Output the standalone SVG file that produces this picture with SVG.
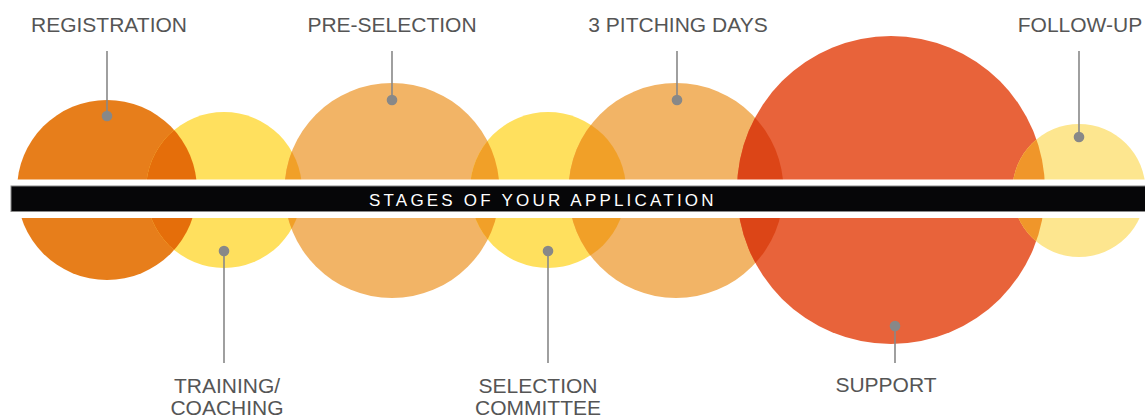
<svg xmlns="http://www.w3.org/2000/svg" width="1145" height="416" viewBox="0 0 1145 416">
  <style>
    .lbl { font-family: "Liberation Sans", Arial, sans-serif; font-size: 21px; fill: #555555; text-anchor: middle; }
    .band { font-family: "Liberation Sans", Arial, sans-serif; font-size: 17px; fill: #ffffff; letter-spacing: 3.2px; }
    .lead { stroke: #888888; stroke-width: 1.6; fill: none; }
    .dot { fill: #888888; }
  </style>
  <defs>
    <clipPath id="k1"><circle cx="107" cy="190" r="90"/></clipPath>
    <clipPath id="k2"><circle cx="224" cy="190" r="78"/></clipPath>
    <clipPath id="k3"><circle cx="392" cy="190.5" r="107.5"/></clipPath>
    <clipPath id="k4"><circle cx="548" cy="190" r="78"/></clipPath>
    <clipPath id="k5"><circle cx="676" cy="190.5" r="107.5"/></clipPath>
    <clipPath id="k6"><circle cx="891" cy="190" r="154"/></clipPath>
  </defs>

  <g id="circles">
    <circle cx="107" cy="190" r="90" fill="#E77E1B"/>
    <circle cx="224" cy="190" r="78" fill="#FFE05E"/>
    <circle cx="392" cy="190.5" r="107.5" fill="#F2B466"/>
    <circle cx="548" cy="190" r="78" fill="#FFE05E"/>
    <circle cx="676" cy="190.5" r="107.5" fill="#F2B466"/>
    <circle cx="891" cy="190" r="154" fill="#E8633A"/>
    <circle cx="1079" cy="190.5" r="66.5" fill="#FDE68F"/>
  </g>
  <g id="overlaps">
    <circle cx="224" cy="190" r="78" fill="#E56E0A" clip-path="url(#k1)"/>
    <circle cx="392" cy="190.5" r="107.5" fill="#F1A028" clip-path="url(#k2)"/>
    <circle cx="548" cy="190" r="78" fill="#F1A028" clip-path="url(#k3)"/>
    <circle cx="676" cy="190.5" r="107.5" fill="#F1A028" clip-path="url(#k4)"/>
    <circle cx="891" cy="190" r="154" fill="#DC4517" clip-path="url(#k5)"/>
    <circle cx="1079" cy="190.5" r="66.5" fill="#F0962A" clip-path="url(#k6)"/>
  </g>

  <g id="band">
    <rect x="0" y="179.5" width="1145" height="38.5" fill="#ffffff"/>
    <rect x="11" y="186" width="1135" height="25.5" fill="#060608" stroke="#8a8a8a" stroke-width="1"/>
    <text class="band" x="369" y="205.5">STAGES OF YOUR APPLICATION</text>
  </g>

  <g id="connectors">
    <line class="lead" x1="107" y1="51" x2="107" y2="116"/>
    <line class="lead" x1="224" y1="251" x2="224" y2="363"/>
    <line class="lead" x1="392" y1="51" x2="392" y2="100"/>
    <line class="lead" x1="548" y1="251" x2="548" y2="363"/>
    <line class="lead" x1="677" y1="51" x2="677" y2="100"/>
    <line class="lead" x1="895" y1="326" x2="895" y2="363"/>
    <line class="lead" x1="1079" y1="51" x2="1079" y2="137"/>
  </g>

  <g id="registration">
    <circle class="dot" cx="107" cy="116" r="5.3"/>
    <text class="lbl" x="109" y="32">REGISTRATION</text>
  </g>
  <g id="training">
    <circle class="dot" cx="224" cy="251" r="5.3"/>
    <text class="lbl" x="227" y="393">TRAINING/</text>
    <text class="lbl" x="227" y="415">COACHING</text>
  </g>
  <g id="pre-selection">
    <circle class="dot" cx="392" cy="100" r="5.3"/>
    <text class="lbl" x="392" y="32">PRE-SELECTION</text>
  </g>
  <g id="selection-committee">
    <circle class="dot" cx="548" cy="251" r="5.3"/>
    <text class="lbl" x="538" y="393">SELECTION</text>
    <text class="lbl" x="538" y="415">COMMITTEE</text>
  </g>
  <g id="pitching-days">
    <circle class="dot" cx="677" cy="100" r="5.3"/>
    <text class="lbl" x="678" y="32">3 PITCHING DAYS</text>
  </g>
  <g id="support">
    <circle class="dot" cx="895" cy="326" r="5.3"/>
    <text class="lbl" x="886" y="392">SUPPORT</text>
  </g>
  <g id="follow-up">
    <circle class="dot" cx="1079" cy="137" r="5.3"/>
    <text class="lbl" x="1080" y="32">FOLLOW-UP</text>
  </g>
</svg>
